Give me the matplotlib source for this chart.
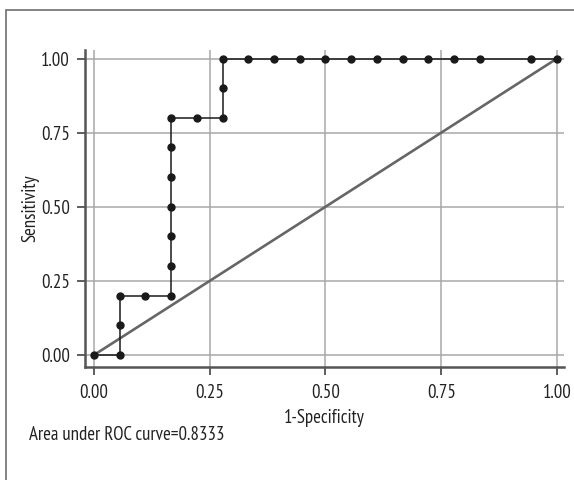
import matplotlib
matplotlib.use("Agg")
import matplotlib.pyplot as plt
from matplotlib.patches import Rectangle

plt.rcParams['font.family'] = ['PT Sans Narrow', 'Archivo Narrow', 'DejaVu Sans']

# ROC points (1-specificity, sensitivity), in path order
fpr = [0.0, 0.0556, 0.0556, 0.0556, 0.1111, 0.1667, 0.1667, 0.1667, 0.1667,
       0.1667, 0.1667, 0.1667, 0.2222, 0.2778, 0.2778, 0.2778, 0.3333, 0.3889,
       0.4444, 0.5, 0.5556, 0.6111, 0.6667, 0.7222, 0.7778, 0.8333, 0.9444, 1.0]
tpr = [0.0, 0.0, 0.1, 0.2, 0.2, 0.2, 0.3, 0.4, 0.5,
       0.6, 0.7, 0.8, 0.8, 0.8, 0.9, 1.0, 1.0, 1.0,
       1.0, 1.0, 1.0, 1.0, 1.0, 1.0, 1.0, 1.0, 1.0, 1.0]
ref_line = [0.0, 1.0]
ticks = [0.0, 0.25, 0.5, 0.75, 1.0]
tick_labels = ["0.00", "0.25", "0.50", "0.75", "1.00"]
auc_text = "Area under ROC curve=0.8333"

fig = plt.figure(figsize=(5.74, 4.8), dpi=100)

# size the font so the AUC note is ~196 px wide, like the reference
note = fig.text(29 / 574, 1 - 435 / 480, auc_text, fontsize=12, color="#222222",
                ha="left", va="center")
fig.canvas.draw()
FS = 12 * 196 / note.get_window_extent().width
FS = min(max(FS, 10), 16)
note.set_fontsize(FS)

ax = fig.add_axes([85 / 574, 1 - 367 / 480, (564 - 85) / 574, (367 - 50) / 480])

# outer frame
fig.patches.append(Rectangle((6 / 574, -0.05), 1.0, 1 - 10 / 480 + 0.05,
                             transform=fig.transFigure, fill=False,
                             edgecolor="#6e6e6e", linewidth=1.2))

ax.plot(ref_line, ref_line, color="#666666", linewidth=1.9, zorder=2)
ax.plot(fpr, tpr, color="#1a1a1a", linewidth=1.1, marker="o",
        markersize=5, markerfacecolor="#1a1a1a", markeredgecolor="#1a1a1a", zorder=3)

ax.set_xlim(-0.0194, 1.0151)
ax.set_ylim(-0.0405, 1.0287)
ax.set_xticks(ticks)
ax.set_xticklabels(tick_labels)
ax.set_yticks(ticks)
ax.set_yticklabels(tick_labels)
ax.grid(True, color="#a8a8a8", linewidth=1.1)
ax.set_axisbelow(True)

for s in ["top", "right"]:
    ax.spines[s].set_visible(False)
for s in ["left", "bottom"]:
    ax.spines[s].set_color("#555555")
    ax.spines[s].set_linewidth(1.8)

ax.tick_params(axis="both", length=6, width=1.1, color="#333333",
               labelsize=FS, labelcolor="#222222", pad=5)
ax.tick_params(axis="x", pad=6.5)
ax.set_xlabel("1-Specificity", fontsize=FS, color="#222222", labelpad=5)
ax.set_ylabel("Sensitivity", fontsize=FS, color="#222222", labelpad=1)

fig.savefig("out.png", dpi=100)
